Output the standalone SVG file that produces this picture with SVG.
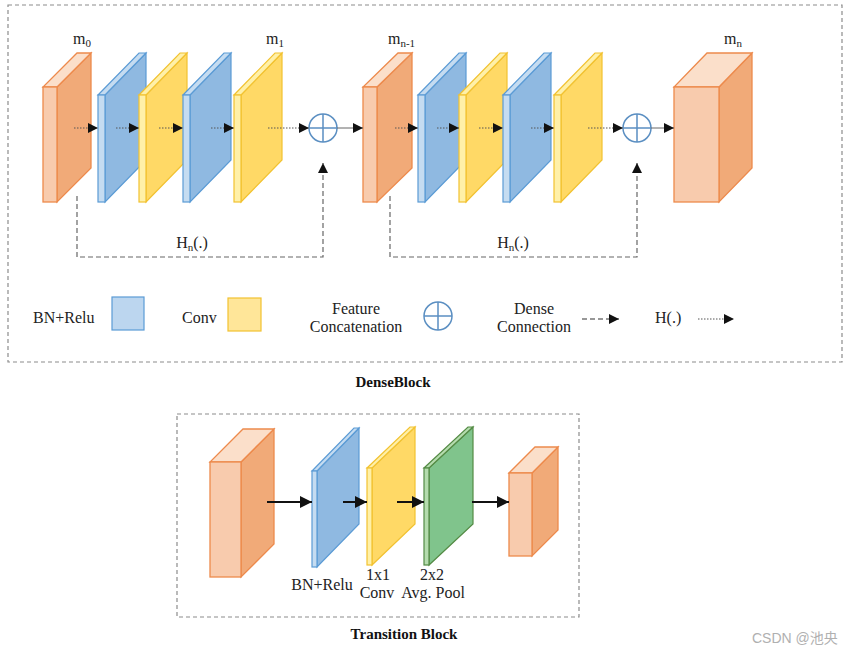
<svg xmlns="http://www.w3.org/2000/svg" width="850" height="653" viewBox="0 0 850 653">
<defs>
<style>
.t{font-family:"Liberation Serif","Times New Roman",serif;fill:#222;font-size:16px}
.tb{font-family:"Liberation Serif","Times New Roman",serif;fill:#111;font-size:15px;font-weight:bold}
.box{fill:none;stroke:#8c8c8c;stroke-width:1.2;stroke-dasharray:4 3}
.oF{fill:#f8cbad;stroke:#ed8a4c;stroke-width:1.3}
.oS{fill:#f1aa78;stroke:#ed8a4c;stroke-width:1.3}
.oT{fill:#fbdfca;stroke:#ed8a4c;stroke-width:1.3}
.bF{fill:#c5dcf1;stroke:#5b9bd5;stroke-width:1.2}
.bS{fill:#8fb9e1;stroke:#5b9bd5;stroke-width:1.2}
.bT{fill:#c5dcf1;stroke:#5b9bd5;stroke-width:1.2}
.yF{fill:#fff0a8;stroke:#f2c230;stroke-width:1.2}
.yS{fill:#ffd966;stroke:#f2c230;stroke-width:1.2}
.yT{fill:#fff0a8;stroke:#f2c230;stroke-width:1.2}
.gF{fill:#b5dcae;stroke:#548b45;stroke-width:1.2}
.gS{fill:#80c48c;stroke:#548b45;stroke-width:1.2}
.gT{fill:#b5dcae;stroke:#548b45;stroke-width:1.2}
.circ{fill:#fff;stroke:#5b8fc2;stroke-width:1.5}
.dot{stroke:#555;stroke-width:1;stroke-dasharray:1.5 1.5;fill:none}
.thin{stroke:#666;stroke-width:1;fill:none}
.dash{stroke:#666;stroke-width:1.2;stroke-dasharray:5 3;fill:none}
.thick{stroke:#111;stroke-width:2;fill:none}
</style>
<marker id="ah" viewBox="0 0 10 10" refX="10" refY="5" markerWidth="10" markerHeight="10" markerUnits="userSpaceOnUse" orient="auto">
<path d="M0,0 L10,5 L0,10 Z" fill="#111"/>
</marker>
<marker id="ahb" viewBox="0 0 10 10" refX="10" refY="5" markerWidth="12" markerHeight="12" markerUnits="userSpaceOnUse" orient="auto">
<path d="M0,0 L10,5 L0,10 Z" fill="#111"/>
</marker>
</defs>
<rect width="850" height="653" fill="#fff"/>

<rect class="box" x="8" y="5" width="834" height="357"/>
<rect class="box" x="177" y="414" width="402" height="203"/>

<!-- DenseBlock nodes -->
<g id="m0">
<polygon class="oS" points="57,87 91,53 91,168 57,202"/>
<polygon class="oT" points="43,87 57,87 91,53 77,53"/>
<rect class="oF" x="43" y="87" width="14" height="115"/>
<text class="t" x="73" y="44">m<tspan font-size="11" dy="3">0</tspan></text>
</g>
<g id="bn1">
<polygon class="bS" points="105,95 146,53 146,160 105,202"/>
<polygon class="bT" points="98,95 105,95 146,53 139,53"/>
<rect class="bF" x="98" y="95" width="7" height="107"/>
</g>
<g id="conv1">
<polygon class="yS" points="146,95 187,53 187,160 146,202"/>
<polygon class="yT" points="139,95 146,95 187,53 180,53"/>
<rect class="yF" x="139" y="95" width="7" height="107"/>
</g>
<g id="bn2">
<polygon class="bS" points="190,95 231,53 231,160 190,202"/>
<polygon class="bT" points="183,95 190,95 231,53 224,53"/>
<rect class="bF" x="183" y="95" width="7" height="107"/>
</g>
<g id="conv2">
<polygon class="yS" points="241,95 282,53 282,160 241,202"/>
<polygon class="yT" points="234,95 241,95 282,53 275,53"/>
<rect class="yF" x="234" y="95" width="7" height="107"/>
<text class="t" x="266" y="44">m<tspan font-size="11" dy="3">1</tspan></text>
</g>
<g id="concat1">
<circle class="circ" cx="323" cy="128" r="14"/>
<path class="circ" d="M309,128 H337 M323,114 V142"/>
</g>
<g id="mn1">
<polygon class="oS" points="377,87 412,53 412,168 377,202"/>
<polygon class="oT" points="363,87 377,87 412,53 398,53"/>
<rect class="oF" x="363" y="87" width="14" height="115"/>
<text class="t" x="388" y="44">m<tspan font-size="11" dy="3">n-1</tspan></text>
</g>
<g id="bn3">
<polygon class="bS" points="425,95 466,53 466,160 425,202"/>
<polygon class="bT" points="418,95 425,95 466,53 459,53"/>
<rect class="bF" x="418" y="95" width="7" height="107"/>
</g>
<g id="conv3">
<polygon class="yS" points="466,95 507,53 507,160 466,202"/>
<polygon class="yT" points="459,95 466,95 507,53 500,53"/>
<rect class="yF" x="459" y="95" width="7" height="107"/>
</g>
<g id="bn4">
<polygon class="bS" points="510,95 551,53 551,160 510,202"/>
<polygon class="bT" points="503,95 510,95 551,53 544,53"/>
<rect class="bF" x="503" y="95" width="7" height="107"/>
</g>
<g id="conv4">
<polygon class="yS" points="561,95 602,53 602,160 561,202"/>
<polygon class="yT" points="554,95 561,95 602,53 595,53"/>
<rect class="yF" x="554" y="95" width="7" height="107"/>
</g>
<g id="concat2">
<circle class="circ" cx="637" cy="128" r="14"/>
<path class="circ" d="M623,128 H651 M637,114 V142"/>
</g>
<g id="mn">
<polygon class="oS" points="719,87 752,53 752,168 719,202"/>
<polygon class="oT" points="674,87 719,87 752,53 707,53"/>
<rect class="oF" x="674" y="87" width="45" height="115"/>
<text class="t" x="724" y="44">m<tspan font-size="11" dy="3">n</tspan></text>
</g>

<!-- Legend -->
<g id="legend">
<text class="t" x="33" y="323">BN+Relu</text>
<rect class="bF" x="112" y="297" width="32" height="33" style="fill:#bcd6ef"/>
<text class="t" x="182" y="323">Conv</text>
<rect class="yF" x="228" y="298" width="33" height="33" style="fill:#ffe699"/>
<text class="t" x="356" y="314" text-anchor="middle">Feature</text>
<text class="t" x="356" y="332" text-anchor="middle">Concatenation</text>
<circle class="circ" cx="438" cy="316" r="14"/>
<path class="circ" d="M424,316 H452 M438,302 V330"/>
<text class="t" x="534" y="314" text-anchor="middle">Dense</text>
<text class="t" x="534" y="332" text-anchor="middle">Connection</text>
<line class="dash" x1="582" y1="319" x2="619" y2="319" marker-end="url(#ah)" style="stroke:#333"/>
<text class="t" x="655" y="323">H(.)</text>
<line class="dot" x1="698" y1="319" x2="734" y2="319" marker-end="url(#ah)"/>
</g>
<text class="tb" x="393" y="387" text-anchor="middle">DenseBlock</text>

<!-- Transition block nodes -->
<g id="t_in">
<polygon class="oS" points="241,462 274,429 274,544 241,577"/>
<polygon class="oT" points="210,462 241,462 274,429 243,429"/>
<rect class="oF" x="210" y="462" width="31" height="115"/>
</g>
<g id="t_bn">
<polygon class="bS" points="317,471 359,428 359,524 317,567"/>
<polygon class="bT" points="312,471 317,471 359,428 354,428"/>
<rect class="bF" x="312" y="471" width="5" height="96"/>
<text class="t" x="322" y="590" text-anchor="middle">BN+Relu</text>
</g>
<g id="t_conv">
<polygon class="yS" points="372,468 415,427 415,524 372,565"/>
<polygon class="yT" points="367,468 372,468 415,427 410,427"/>
<rect class="yF" x="367" y="468" width="5" height="97"/>
<text class="t" x="378" y="580" text-anchor="middle">1x1</text>
<text class="t" x="377" y="598" text-anchor="middle">Conv</text>
</g>
<g id="t_pool">
<polygon class="gS" points="429,468 473,427 473,524 429,565"/>
<polygon class="gT" points="424,468 429,468 473,427 468,427"/>
<rect class="gF" x="424" y="468" width="5" height="97"/>
<text class="t" x="432" y="580" text-anchor="middle">2x2</text>
<text class="t" x="433" y="598" text-anchor="middle">Avg. Pool</text>
</g>
<g id="t_out">
<polygon class="oS" points="532,473 558,447 558,530 532,556"/>
<polygon class="oT" points="509,473 532,473 558,447 535,447"/>
<rect class="oF" x="509" y="473" width="23" height="83"/>
</g>
<text class="tb" x="404" y="639" text-anchor="middle">Transition Block</text>

<!-- Connectors -->
<g id="connectors">
<line class="dot" x1="74" y1="128" x2="98" y2="128" marker-end="url(#ah)"/>
<line class="dot" x1="116" y1="128" x2="139" y2="128" marker-end="url(#ah)"/>
<line class="dot" x1="159" y1="128" x2="183" y2="128" marker-end="url(#ah)"/>
<line class="dot" x1="211" y1="128" x2="234" y2="128" marker-end="url(#ah)"/>
<line class="dot" x1="268" y1="128" x2="309" y2="128" marker-end="url(#ah)"/>
<line class="thin" x1="337" y1="128" x2="363" y2="128" marker-end="url(#ah)"/>
<line class="dot" x1="395" y1="128" x2="418" y2="128" marker-end="url(#ah)"/>
<line class="dot" x1="437" y1="128" x2="459" y2="128" marker-end="url(#ah)"/>
<line class="dot" x1="479" y1="128" x2="503" y2="128" marker-end="url(#ah)"/>
<line class="dot" x1="531" y1="128" x2="554" y2="128" marker-end="url(#ah)"/>
<line class="dot" x1="588" y1="128" x2="623" y2="128" marker-end="url(#ah)"/>
<line class="thin" x1="651" y1="128" x2="674" y2="128" marker-end="url(#ah)"/>
<polyline class="dash" points="77,196 77,257 323,257 323,163" marker-end="url(#ah)"/>
<polyline class="dash" points="390,196 390,257 637,257 637,163" marker-end="url(#ah)"/>
<text class="t" x="192" y="248" text-anchor="middle">H<tspan font-size="11" dy="3">n</tspan><tspan dy="-3">(.)</tspan></text>
<text class="t" x="513" y="248" text-anchor="middle">H<tspan font-size="11" dy="3">n</tspan><tspan dy="-3">(.)</tspan></text>
<line class="thick" x1="267" y1="502" x2="312" y2="502" marker-end="url(#ahb)"/>
<line class="thick" x1="343" y1="502" x2="367" y2="502" marker-end="url(#ahb)"/>
<line class="thick" x1="397" y1="502" x2="424" y2="502" marker-end="url(#ahb)"/>
<line class="thick" x1="472" y1="502" x2="509" y2="502" marker-end="url(#ahb)"/>
</g>

<text x="752" y="643" style="font-family:'Liberation Sans','Noto Sans CJK SC',sans-serif;font-size:14px;fill:#b0b0b0">CSDN @池央</text>
</svg>
